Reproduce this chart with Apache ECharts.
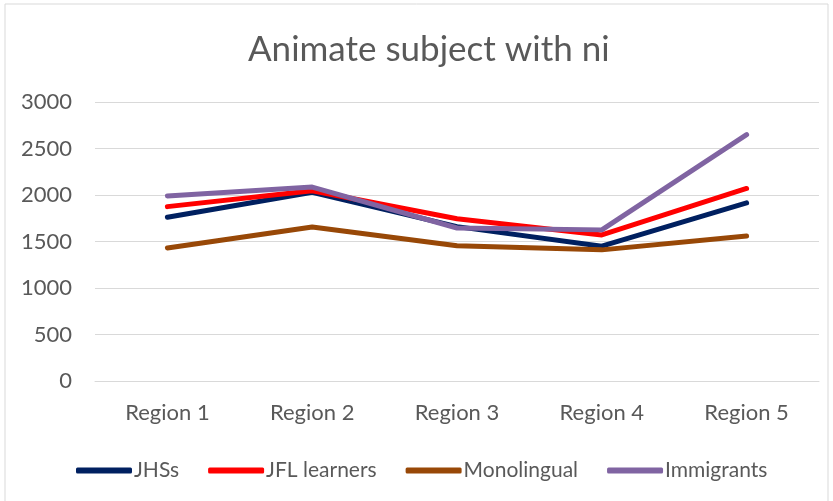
<!DOCTYPE html>
<html>
<head>
<meta charset="utf-8">
<script src="https://cdn.jsdelivr.net/npm/echarts@6/dist/echarts.min.js"></script>
<style>
  html, body { margin: 0; padding: 0; background: #fff; }
  #chart { width: 833px; height: 501px; }
</style>
</head>
<body>
<div id="chart"></div>
<script>
var regions = ["Region 1", "Region 2", "Region 3", "Region 4", "Region 5"];
var jhss = [1760, 2030, 1660, 1450, 1915];
var jflLearners = [1875, 2045, 1745, 1570, 2070];
var monolingual = [1430, 1655, 1455, 1410, 1560];
var immigrants = [1990, 2085, 1645, 1625, 2650];
var yTicks = [0, 500, 1000, 1500, 2000, 2500, 3000];

var font = "Lato";
var chart = echarts.init(document.getElementById("chart"));

function line(name, data, color) {
  return {
    name: name,
    type: "line",
    data: data,
    symbol: "none",
    lineStyle: { width: 5, color: color, cap: "round", join: "round" },
    itemStyle: { color: color }
  };
}

var option = {
  animation: false,
  backgroundColor: "#fff",
  textStyle: { fontFamily: font },
  graphic: [{
    type: "rect",
    shape: { x: 5, y: 4, width: 823, height: 500 },
    style: { fill: "none", stroke: "#d9d9d9", lineWidth: 1 },
    silent: true
  }],
  title: {
    text: "Animate subject with ni",
    left: 243,
    top: 27,
    textStyle: { fontFamily: font, fontSize: 35, fontWeight: "normal", color: "#595959" }
  },
  legend: {
    data: ["JHSs", "JFL learners", "Monolingual", "Immigrants"],
    top: 455,
    left: 71,
    icon: "roundRect",
    itemWidth: 56,
    itemHeight: 6,
    itemGap: 29,
    textStyle: { fontFamily: font, fontSize: 21, color: "#595959", padding: [0, 0, 0, -3] }
  },
  grid: { left: 95, right: 14, top: 102, bottom: 120 },
  xAxis: {
    type: "category",
    data: regions,
    boundaryGap: true,
    axisLine: { lineStyle: { color: "#d9d9d9", width: 1 } },
    axisTick: { show: false },
    axisLabel: { fontFamily: font, fontSize: 22, color: "#595959", margin: 21 }
  },
  yAxis: {
    type: "value",
    min: yTicks[0],
    max: yTicks[yTicks.length - 1],
    interval: 500,
    axisLine: { show: false },
    axisTick: { show: false },
    axisLabel: {
      fontFamily: font, fontSize: 22, color: "#595959", margin: 23,
      formatter: function (v) { return String(v); }
    },
    splitLine: { lineStyle: { color: "#d9d9d9", width: 1 } }
  },
  series: [
    line("JHSs", jhss, "#002060"),
    line("JFL learners", jflLearners, "#ff0000"),
    line("Monolingual", monolingual, "#984807"),
    line("Immigrants", immigrants, "#8064a2")
  ]
};
chart.setOption(option);
</script>
</body>
</html>
